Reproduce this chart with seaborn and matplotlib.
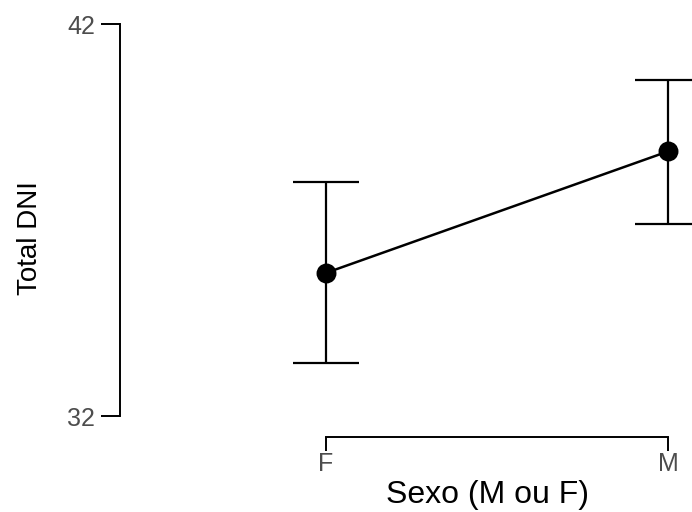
import numpy as np
import pandas as pd
import seaborn as sns
import matplotlib.pyplot as plt

# valores
sexo = ['F', 'M']
media = [35.65, 38.75]
ic_inf = [33.35, 36.9]
ic_sup = [37.98, 40.58]

df = pd.DataFrame({'Sexo': sexo, 'Total DNI': media})

sns.set_style('ticks')
plt.rcParams['font.family'] = ['Liberation Sans', 'DejaVu Sans']

fig = plt.figure(figsize=(6.92, 5.12), dpi=100)
ax = fig.add_axes([120 / 692, 96 / 512, 572 / 692, 392 / 512])

# barras de erro
yerr = np.array([np.array(media) - np.array(ic_inf), np.array(ic_sup) - np.array(media)])
ax.errorbar(x=[0, 1], y=media, yerr=yerr, fmt='none', ecolor='black',
            elinewidth=1.6, capsize=24, capthick=1.6, zorder=1)

sns.pointplot(data=df, x='Sexo', y='Total DNI', color='black', errorbar=None,
              markers='o', markersize=13, linewidth=1.8, ax=ax, zorder=3)

ax.set_xlim(-0.602, 1.07)
ax.set_ylim(32, 42)
ax.set_yticks([32, 42])
ax.set_xticks([0, 1])
ax.set_xticklabels(sexo)

sns.despine(ax=ax)
ax.spines['bottom'].set_position(('outward', 15))
ax.spines['bottom'].set_bounds(0, 1)
ax.spines['left'].set_bounds(32, 42)
ax.spines['left'].set_linewidth(1.4)
ax.spines['bottom'].set_linewidth(1.4)
ax.spines['left'].set_color('black')
ax.spines['bottom'].set_color('black')
ax.tick_params(axis='both', width=1.4, labelsize=18, labelcolor='#4d4d4d', color='black')
ax.tick_params(axis='y', length=14, pad=4)
ax.tick_params(axis='x', length=10, pad=1)

ax.set_xlabel('Sexo (M ou F)', fontsize=23, color='black')
ax.xaxis.set_label_coords(0.643, -0.2015)
ax.xaxis.label.set_va('center')
ax.set_ylabel('Total DNI', fontsize=20, color='black')
ax.yaxis.set_label_coords(-0.157, 0.454)
ax.yaxis.label.set_va('center')

fig.savefig('out.png', dpi=100)
